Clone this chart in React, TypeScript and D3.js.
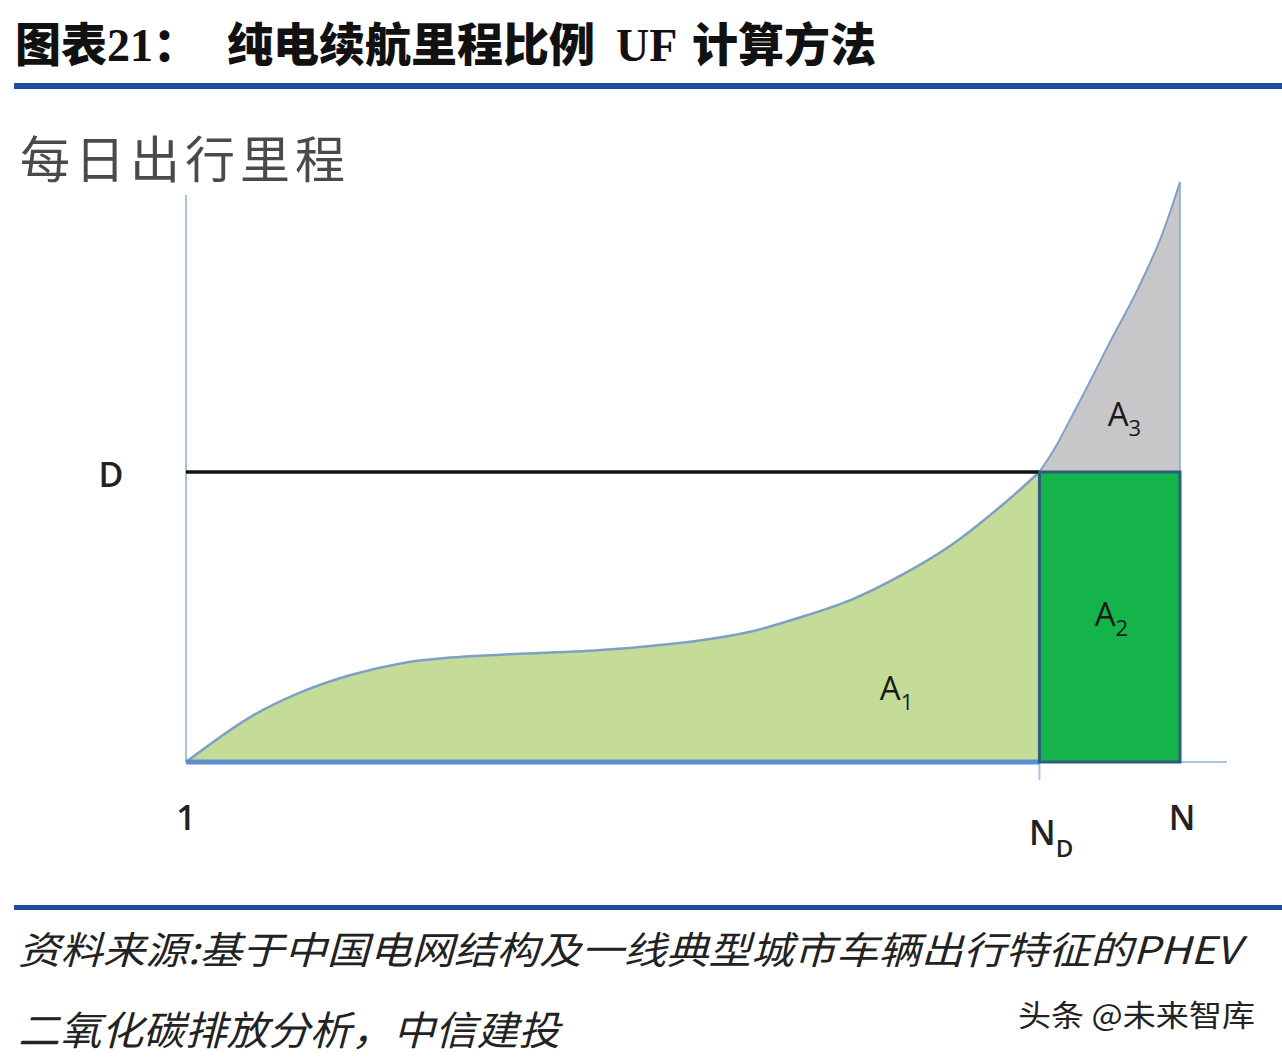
import React from "react";
import * as d3 from "d3";

const titleParts = ["图表", "21", "：", "纯电续航里程比例", "UF", "计算方法"];
const yAxisTitle = "每日出行里程";
const sourceLines = ["资料来源:基于中国电网结构及一线典型城市车辆出行特征的PHEV", "二氧化碳排放分析，中信建投"];
const watermark = "头条 @未来智库";

// trip rank (1..N) and daily distance (in units of D)
const rankX = [1, 7.4, 12.4, 17.4, 22.4, 27.3, 32.3, 42.3, 52.3, 57.3, 62.3, 67.3, 72.3, 77.3, 82.3, 86, 87.5, 89.2, 91.3, 93.2, 95.5, 98.0, 100];
const distY = [0, 0.155, 0.24, 0.3, 0.34, 0.36, 0.37, 0.386, 0.42, 0.45, 0.5, 0.56, 0.645, 0.75, 0.886, 1.0, 1.08, 1.19, 1.33, 1.46, 1.61, 1.8, 2.0];
const N_START = 1;
const N_D = 86;
const N_END = 100;
const D_VALUE = 1;
const areaLabels = [
  { name: "A", sub: "1", x: 70.1, y: 0.215 },
  { name: "A", sub: "2", x: 91.5, y: 0.47 },
  { name: "A", sub: "3", x: 92.8, y: 1.16 },
];

export default function App() {
  const x = d3.scaleLinear().domain([N_START, N_END]).range([186, 1180]);
  const y = d3.scaleLinear().domain([0, 2]).range([762, 182]);
  const pts = rankX.map((v, i) => ({ x: v, y: distY[i] }));
  const greenPts = pts.filter((p) => p.x <= N_D);
  const grayPts = pts.filter((p) => p.x >= N_D);
  const curve = d3.curveCatmullRom.alpha(0.5);
  const greenArea = d3.area<any>().x((d) => x(d.x)).y0(y(0)).y1((d) => y(d.y)).curve(curve)(greenPts) || "";
  const grayArea = d3.area<any>().x((d) => x(d.x)).y0(y(D_VALUE)).y1((d) => y(d.y)).curve(curve)(grayPts) || "";
  const greenLine = d3.line<any>().x((d) => x(d.x)).y((d) => y(d.y)).curve(curve)(greenPts) || "";
  const grayLine = d3.line<any>().x((d) => x(d.x)).y((d) => y(d.y)).curve(curve)(grayPts) || "";

  const cjk = "'Noto Sans CJK SC', sans-serif";
  const latinSans = "'Open Sans', 'Noto Sans', sans-serif";

  return (
    <svg width={1282} height={1060} style={{ position: "absolute", left: 0, top: 0, background: "#fff" }}>
      <rect width={1282} height={1060} fill="#fff" />
      {/* title */}
      <text y={61} fontSize={46} fontWeight={900} fill="#111" fontFamily={cjk}>
        <tspan x={15}>{titleParts[0]}</tspan>
        <tspan fontFamily="'Liberation Serif', serif" fontWeight={700}>{titleParts[1]}</tspan>
        <tspan>{titleParts[2]}</tspan>
        <tspan x={227}>{titleParts[3]}</tspan>
        <tspan x={616} fontFamily="'Liberation Serif', serif" fontWeight={700}>{titleParts[4]}</tspan>
        <tspan x={692}>{titleParts[5]}</tspan>
      </text>
      <rect x={14} y={83} width={1268} height={6} fill="#1f4e9a" />

      {/* y axis title */}
      <text x={20} y={178} fontSize={50} fill="#4a4a4a" fontFamily={cjk} fontWeight={400} textLength={325} lengthAdjust="spacing">
        {yAxisTitle}
      </text>

      {/* axes */}
      <line x1={x(N_START)} x2={x(N_START)} y1={195} y2={y(0)} stroke="#a9c3e6" strokeWidth={2} />
      <line x1={x(N_START)} x2={1227} y1={y(0)} y2={y(0)} stroke="#a9c3e6" strokeWidth={2} />
      <line x1={x(N_D)} x2={x(N_D)} y1={y(0)} y2={780} stroke="#a9c3e6" strokeWidth={2} />

      {/* areas */}
      <path d={greenArea} fill="#c5dc98" />
      <path d={grayArea} fill="#c7c7c9" />
      <path d={greenLine} fill="none" stroke="#7f9fc6" strokeWidth={2.5} />
      <path d={grayLine} fill="none" stroke="#7f9fc6" strokeWidth={2} />
      <line x1={x(N_END)} x2={x(N_END)} y1={y(2)} y2={y(D_VALUE)} stroke="#8aa6c8" strokeWidth={1.5} />
      <line x1={x(N_START)} x2={x(N_D)} y1={y(0)} y2={y(0)} stroke="#5b8fd0" strokeWidth={5} />

      {/* D line */}
      <line x1={x(N_START)} x2={x(N_D)} y1={y(D_VALUE)} y2={y(D_VALUE)} stroke="#111" strokeWidth={3.5} />

      {/* A2 rectangle */}
      <rect x={x(N_D)} y={y(D_VALUE)} width={x(N_END) - x(N_D)} height={y(0) - y(D_VALUE)} fill="#14b44b" stroke="#2c5f7e" strokeWidth={3} />

      {/* area labels */}
      {areaLabels.map((l, i) => (
        <text key={i} x={x(l.x)} y={y(l.y)} fontSize={33} fontWeight={500} fill="#1a1a1a" fontFamily={latinSans}>
          {l.name}
          <tspan fontSize={22} dy={10}>{l.sub}</tspan>
        </text>
      ))}

      {/* axis labels */}
      <text x={111} y={487} fontSize={34} fontWeight={600} fill="#222" textAnchor="middle" fontFamily={latinSans}>D</text>
      <text x={186} y={830} fontSize={34} fontWeight={600} fill="#222" textAnchor="middle" fontFamily={latinSans}>{N_START}</text>
      <text x={1182} y={830} fontSize={34} fontWeight={600} fill="#222" textAnchor="middle" fontFamily={latinSans}>N</text>
      <text x={1029} y={845} fontSize={34} fontWeight={600} fill="#222" fontFamily={latinSans}>
        N<tspan fontSize={24} dy={12}>D</tspan>
      </text>

      {/* footer */}
      <rect x={14} y={905} width={1268} height={5} fill="#1f4e9a" />
      <text x={18} y={964} fontSize={38} fontStyle="italic" fill="#222" fontFamily={cjk} textLength={1222} lengthAdjust="spacingAndGlyphs">
        {sourceLines[0]}
      </text>
      <text x={18} y={1045} fontSize={40} fontStyle="italic" fill="#222" fontFamily={cjk} textLength={542} lengthAdjust="spacingAndGlyphs">
        {sourceLines[1]}
      </text>
      <text x={1018} y={1026} fontSize={30} fill="#222" fontFamily={cjk} textLength={237} lengthAdjust="spacingAndGlyphs">
        {watermark}
      </text>
    </svg>
  );
}
